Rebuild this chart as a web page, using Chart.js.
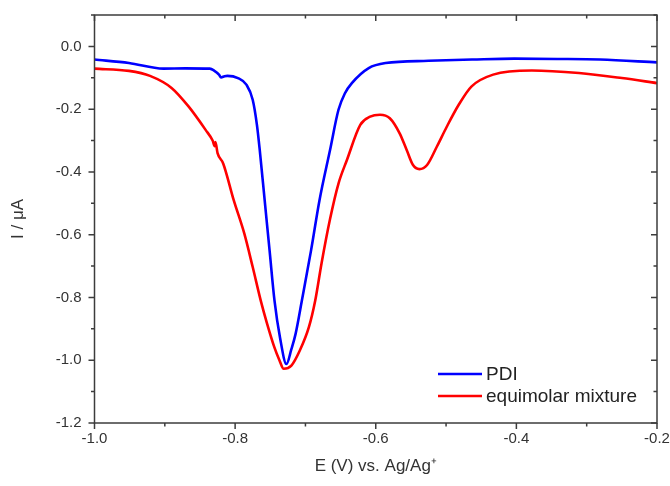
<!DOCTYPE html>
<html>
<head>
<meta charset="utf-8">
<script src="https://cdn.jsdelivr.net/npm/chart.js@4.4.1/dist/chart.umd.min.js"></script>
<style>
  html, body { margin: 0; padding: 0; background: #fff; }
  #wrap { width: 670px; height: 486px; }
</style>
</head>
<body>
<div id="wrap"><canvas id="cv" width="670" height="486"></canvas></div>
<script>
// PDI (blue)
const pdiE = [-1.000, -0.951, -0.902, -0.871, -0.836, -0.830, -0.823, -0.820, -0.815, -0.811, -0.796, -0.784,
  -0.775, -0.769, -0.765, -0.758, -0.751, -0.744, -0.736, -0.727, -0.720, -0.714, -0.705, -0.692, -0.680,
  -0.665, -0.653, -0.644, -0.634, -0.610, -0.586, -0.525, -0.463, -0.403, -0.342, -0.281, -0.200];
const pdiI = [-0.042, -0.053, -0.071, -0.070, -0.071, -0.077, -0.090, -0.099, -0.095, -0.094, -0.101, -0.122,
  -0.170, -0.250, -0.330, -0.490, -0.650, -0.810, -0.930, -1.012, -0.965, -0.916, -0.809, -0.650, -0.490,
  -0.330, -0.202, -0.150, -0.117, -0.069, -0.053, -0.046, -0.042, -0.039, -0.040, -0.042, -0.051];

// equimolar mixture (red)
const mixE = [-1.000, -0.951, -0.921, -0.890, -0.866, -0.842, -0.832, -0.829, -0.828, -0.825, -0.817, -0.802,
  -0.787, -0.775, -0.763, -0.755, -0.744, -0.737, -0.731, -0.720, -0.708, -0.695, -0.686, -0.677, -0.665,
  -0.653, -0.641, -0.622, -0.608, -0.594, -0.580, -0.566, -0.556, -0.547, -0.538, -0.527, -0.513, -0.499,
  -0.482, -0.464, -0.433, -0.378, -0.311, -0.250, -0.200];
const mixI = [-0.071, -0.078, -0.094, -0.133, -0.192, -0.266, -0.300, -0.318, -0.305, -0.340, -0.373, -0.490,
  -0.596, -0.703, -0.815, -0.880, -0.960, -1.000, -1.027, -1.017, -0.969, -0.894, -0.809, -0.690, -0.550,
  -0.437, -0.362, -0.250, -0.224, -0.218, -0.229, -0.277, -0.330, -0.378, -0.391, -0.378, -0.319, -0.256,
  -0.186, -0.128, -0.090, -0.077, -0.085, -0.101, -0.117];

const seriesNames = ['PDI', 'equimolar mixture'];
const seriesColors = ['#0000ff', '#ff0000'];

const xRange = [-1.0, -0.2];
const yRange = [-1.2, 0.1];
const tickStep = 0.1;

const toPoints = (xs, ys) => xs.map((x, i) => ({ x: x, y: ys[i] }));
const isMajor = v => Math.round(v * 10) % 2 === 0;
const fmt = v => {
  let r = Math.round(v * 10) / 10;
  if (Math.abs(r) < 1e-9) r = 0;
  return r.toFixed(1);
};

const axisColor = '#3c3c3c';
const textColor = '#333333';
const fontFam = '"Liberation Sans", Arial, sans-serif';

// box frame, mirrored ticks and the inset legend
const frameTicks = {
  id: 'frameTicks',
  afterDraw(chart) {
    const { ctx, chartArea: a, scales } = chart;
    const x = scales.x, y = scales.y;
    ctx.save();
    ctx.strokeStyle = axisColor;
    ctx.lineWidth = 1.5;
    ctx.strokeRect(a.left, a.top, a.right - a.left, a.bottom - a.top);
    ctx.beginPath();
    x.ticks.forEach(t => {
      const px = x.getPixelForValue(t.value);
      const L = isMajor(t.value) ? 6 : 3.5;
      ctx.moveTo(px, a.bottom); ctx.lineTo(px, a.bottom + L);
      ctx.moveTo(px, a.top); ctx.lineTo(px, a.top + L);
    });
    y.ticks.forEach(t => {
      const py = y.getPixelForValue(t.value);
      const L = isMajor(t.value) ? 6 : 3.5;
      ctx.moveTo(a.left, py); ctx.lineTo(a.left - L, py);
      ctx.moveTo(a.right, py); ctx.lineTo(a.right - L, py);
    });
    ctx.stroke();

    // legend
    ctx.font = '19px ' + fontFam;
    ctx.textBaseline = 'middle';
    ctx.textAlign = 'left';
    const rows = [374, 396];
    chart.data.datasets.forEach((ds, i) => {
      ctx.strokeStyle = ds.borderColor;
      ctx.lineWidth = 2.5;
      ctx.beginPath();
      ctx.moveTo(438, rows[i]);
      ctx.lineTo(482, rows[i]);
      ctx.stroke();
      ctx.fillStyle = '#222';
      ctx.fillText(ds.label, 486, rows[i] + 1);
    });
    ctx.restore();
  }
};

new Chart(document.getElementById('cv'), {
  type: 'scatter',
  data: {
    datasets: [
      { label: seriesNames[0], data: toPoints(pdiE, pdiI), borderColor: seriesColors[0] },
      { label: seriesNames[1], data: toPoints(mixE, mixI), borderColor: seriesColors[1] }
    ]
  },
  options: {
    responsive: false,
    animation: false,
    showLine: true,
    layout: { padding: { top: 15, right: 13, left: 0, bottom: 0 } },
    elements: {
      point: { radius: 0 },
      line: { borderWidth: 2.6, tension: 0.4, cubicInterpolationMode: 'monotone', fill: false }
    },
    plugins: { legend: { display: false }, tooltip: { enabled: false } },
    scales: {
      x: {
        type: 'linear',
        min: xRange[0], max: xRange[1],
        afterFit: s => { s.height = 63; s.paddingLeft = 0; s.paddingRight = 0; },
        grid: { display: false, drawTicks: false },
        border: { display: false },
        ticks: {
          stepSize: tickStep, autoSkip: false, maxRotation: 0, padding: 7,
          color: textColor, font: { family: fontFam, size: 15 },
          callback: v => isMajor(v) ? fmt(v) : ''
        },
        title: {
          display: true, text: 'E (V) vs. Ag/Ag\u207A', color: textColor,
          font: { family: fontFam, size: 17 }, padding: { top: 0, bottom: 9 }
        }
      },
      y: {
        type: 'linear',
        min: yRange[0], max: yRange[1],
        afterFit: s => { s.width = 94.5; s.paddingTop = 0; s.paddingBottom = 0; },
        grid: { display: false, drawTicks: false },
        border: { display: false },
        ticks: {
          stepSize: tickStep, autoSkip: false, padding: 13,
          color: textColor, font: { family: fontFam, size: 15 },
          callback: v => isMajor(v) && v < 0.05 ? fmt(v) : ''
        },
        title: {
          display: true, text: 'I / \u03BCA', color: textColor,
          font: { family: fontFam, size: 17 }, padding: { top: 8, bottom: 0 }
        }
      }
    }
  },
  plugins: [frameTicks]
});
</script>
</body>
</html>
